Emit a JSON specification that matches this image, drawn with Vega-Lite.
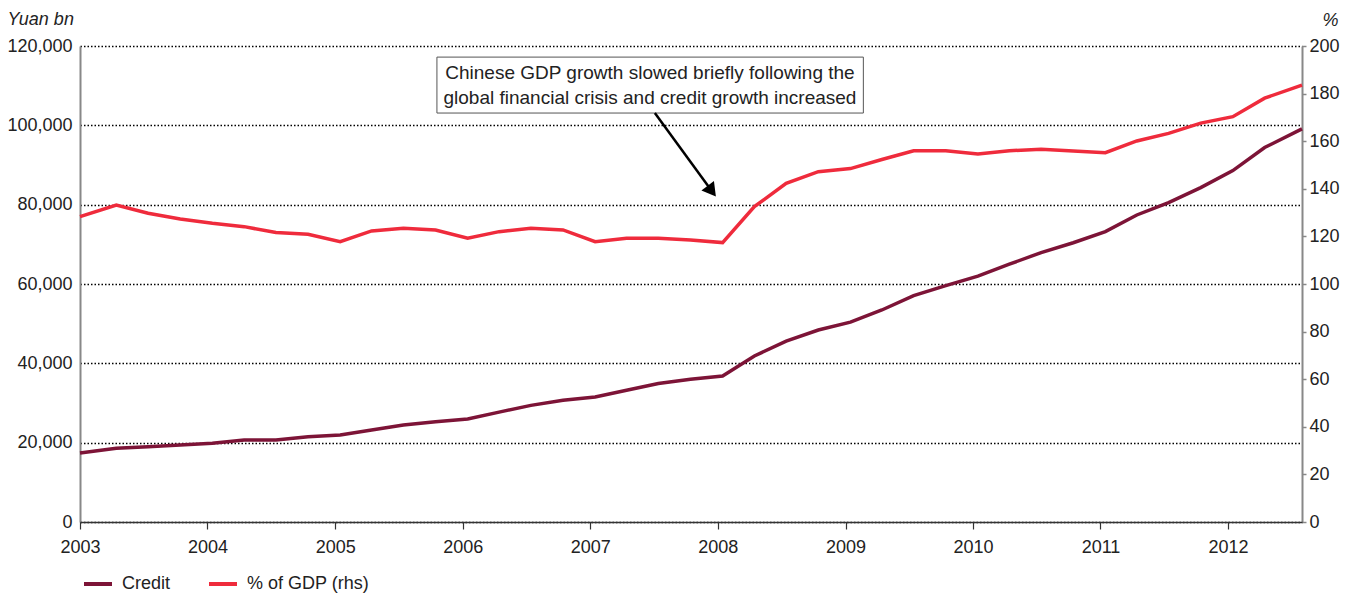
{
  "$schema": "https://vega.github.io/schema/vega-lite/v6.json",
  "width": 1222,
  "height": 476,
  "autosize": {"type": "none"},
  "padding": {"left": 80, "top": 46, "right": 46, "bottom": 71},
  "background": "white",
  "config": {
    "view": {"stroke": null},
    "font": "Liberation Sans",
    "axis": {"labelFont": "Liberation Sans", "labelFontSize": 18, "labelColor": "#222", "grid": false, "titleFont": "Liberation Sans"},
    "legend": {"labelFont": "Liberation Sans"}
  },
  "data": {
    "values": [
      {"date": "2003/01/01", "credit": 17400, "gdp": 128.3},
      {"date": "2003/04/15", "credit": 18600, "gdp": 133.2},
      {"date": "2003/07/15", "credit": 19000, "gdp": 129.7},
      {"date": "2003/10/15", "credit": 19400, "gdp": 127.3},
      {"date": "2004/01/15", "credit": 19850, "gdp": 125.5},
      {"date": "2004/04/15", "credit": 20650, "gdp": 124.1},
      {"date": "2004/07/15", "credit": 20700, "gdp": 121.6},
      {"date": "2004/10/15", "credit": 21500, "gdp": 120.9},
      {"date": "2005/01/15", "credit": 21950, "gdp": 117.8},
      {"date": "2005/04/15", "credit": 23200, "gdp": 122.3},
      {"date": "2005/07/15", "credit": 24450, "gdp": 123.4},
      {"date": "2005/10/15", "credit": 25300, "gdp": 122.7},
      {"date": "2006/01/15", "credit": 25950, "gdp": 119.2},
      {"date": "2006/04/15", "credit": 27700, "gdp": 122.0},
      {"date": "2006/07/15", "credit": 29400, "gdp": 123.4},
      {"date": "2006/10/15", "credit": 30700, "gdp": 122.7},
      {"date": "2007/01/15", "credit": 31500, "gdp": 117.8},
      {"date": "2007/04/15", "credit": 33200, "gdp": 119.2},
      {"date": "2007/07/15", "credit": 34900, "gdp": 119.2},
      {"date": "2007/10/15", "credit": 36000, "gdp": 118.5},
      {"date": "2008/01/15", "credit": 36800, "gdp": 117.4},
      {"date": "2008/04/15", "credit": 41850, "gdp": 132.5},
      {"date": "2008/07/15", "credit": 45600, "gdp": 142.3},
      {"date": "2008/10/15", "credit": 48400, "gdp": 147.2},
      {"date": "2009/01/15", "credit": 50400, "gdp": 148.5},
      {"date": "2009/04/15", "credit": 53450, "gdp": 152.3},
      {"date": "2009/07/15", "credit": 57050, "gdp": 156.0},
      {"date": "2009/10/15", "credit": 59600, "gdp": 156.0},
      {"date": "2010/01/15", "credit": 62000, "gdp": 154.6},
      {"date": "2010/04/15", "credit": 65000, "gdp": 156.0},
      {"date": "2010/07/15", "credit": 67900, "gdp": 156.6},
      {"date": "2010/10/15", "credit": 70400, "gdp": 155.9},
      {"date": "2011/01/15", "credit": 73200, "gdp": 155.2},
      {"date": "2011/04/15", "credit": 77400, "gdp": 160.1},
      {"date": "2011/07/15", "credit": 80500, "gdp": 163.3},
      {"date": "2011/10/15", "credit": 84300, "gdp": 167.6},
      {"date": "2012/01/15", "credit": 88600, "gdp": 170.3},
      {"date": "2012/04/15", "credit": 94400, "gdp": 178.1},
      {"date": "2012/07/31", "credit": 99100, "gdp": 183.6}
    ]
  },
  "layer": [
    {
      "layer": [
        {
          "mark": {"type": "line", "strokeWidth": 3.5},
          "encoding": {
            "x": {
              "field": "date", "type": "temporal", "title": null,
              "scale": {"domain": [{"year": 2003, "month": 1, "date": 1}, {"year": 2012, "month": 7, "date": 31}], "nice": false},
              "axis": {
                "format": "%Y", "tickCount": {"interval": "year", "step": 1},
                "labelFlush": false, "labelOverlap": false,
                "domainColor": "#333", "domainWidth": 1.5,
                "tickColor": "#333", "tickSize": 7, "tickWidth": 1.2,
                "labelPadding": 9, "zindex": 1
              }
            },
            "y": {
              "field": "credit", "type": "quantitative",
              "scale": {"domain": [0, 120000], "nice": false},
              "axis": {
                "orient": "left",
                "values": [0, 20000, 40000, 60000, 80000, 100000, 120000],
                "format": ",d",
                "grid": true, "gridColor": "#000", "gridDash": [1.5, 2], "gridWidth": 1.3,
                "ticks": false, "labelPadding": 8,
                "domainColor": "#888", "domainWidth": 2,
                "title": "Yuan bn", "titleAngle": 0, "titleFontStyle": "italic", "titleFontWeight": "normal",
                "titleFontSize": 18, "titleColor": "#222", "titleAlign": "left", "titleBaseline": "middle",
                "titleX": -73, "titleY": -27
              }
            },
            "color": {
              "datum": "Credit",
              "scale": {"domain": ["Credit", "% of GDP (rhs)"], "range": ["#7d1437", "#ef2b3c"]},
              "legend": {
                "orient": "none", "legendX": 2, "legendY": 522, "direction": "horizontal",
                "title": null, "symbolType": "stroke", "symbolSize": 784, "symbolStrokeWidth": 4,
                "labelFontSize": 18, "labelColor": "#222", "labelOffset": 8, "columnPadding": 30, "padding": 0
              }
            }
          }
        },
        {
          "data": {"values": [{"x1": "2005/10/19", "x2": "2009/02/21", "y1": 117200, "y2": 103100}]},
          "mark": {"type": "rect", "fill": "white", "stroke": "#555", "strokeWidth": 1},
          "encoding": {
            "x": {"field": "x1", "type": "temporal", "title": null},
            "x2": {"field": "x2"},
            "y": {"field": "y1", "type": "quantitative"},
            "y2": {"field": "y2"}
          }
        },
        {
          "data": {"values": [{"tx": "2007/06/21", "ty": 113100, "label": "Chinese GDP growth slowed briefly following the\nglobal financial crisis and credit growth increased"}]},
          "mark": {"type": "text", "align": "center", "baseline": "middle", "lineBreak": "\n", "lineHeight": 24.4, "fontSize": 19, "color": "#222", "font": "Liberation Sans"},
          "encoding": {
            "x": {"field": "tx", "type": "temporal", "title": null},
            "y": {"field": "ty", "type": "quantitative"},
            "text": {"field": "label", "type": "nominal"}
          }
        },
        {
          "data": {"values": [{"ax": "2007/07/05", "ay": 103100, "bx": "2007/12/15", "by": 83420}]},
          "mark": {"type": "rule", "color": "#000", "strokeWidth": 2.5},
          "encoding": {
            "x": {"field": "ax", "type": "temporal", "title": null},
            "x2": {"field": "bx"},
            "y": {"field": "ay", "type": "quantitative"},
            "y2": {"field": "by"}
          }
        },
        {
          "data": {"values": [{"hx": "2007/12/15", "hy": 83420}]},
          "mark": {"type": "point", "shape": "triangle-up", "size": 246, "filled": true, "color": "#000", "opacity": 1, "angle": 143},
          "encoding": {
            "x": {"field": "hx", "type": "temporal", "title": null},
            "y": {"field": "hy", "type": "quantitative"}
          }
        }
      ]
    },
    {
      "mark": {"type": "line", "strokeWidth": 3.5},
      "encoding": {
        "x": {"field": "date", "type": "temporal", "title": null},
        "y": {
          "field": "gdp", "type": "quantitative",
          "scale": {"domain": [0, 200], "nice": false},
          "axis": {
            "orient": "right",
            "values": [0, 20, 40, 60, 80, 100, 120, 140, 160, 180, 200],
            "grid": false, "ticks": true, "tickSize": 4, "tickColor": "#888", "tickWidth": 1.5,
            "domainColor": "#888", "domainWidth": 2, "labelPadding": 3,
            "title": "%", "titleAngle": 0, "titleFontStyle": "italic", "titleFontWeight": "normal",
            "titleFontSize": 18, "titleColor": "#222", "titleAlign": "right", "titleBaseline": "middle",
            "titleX": 36, "titleY": -26
          }
        },
        "color": {"datum": "% of GDP (rhs)"}
      }
    }
  ],
  "resolve": {"scale": {"y": "independent"}}
}
